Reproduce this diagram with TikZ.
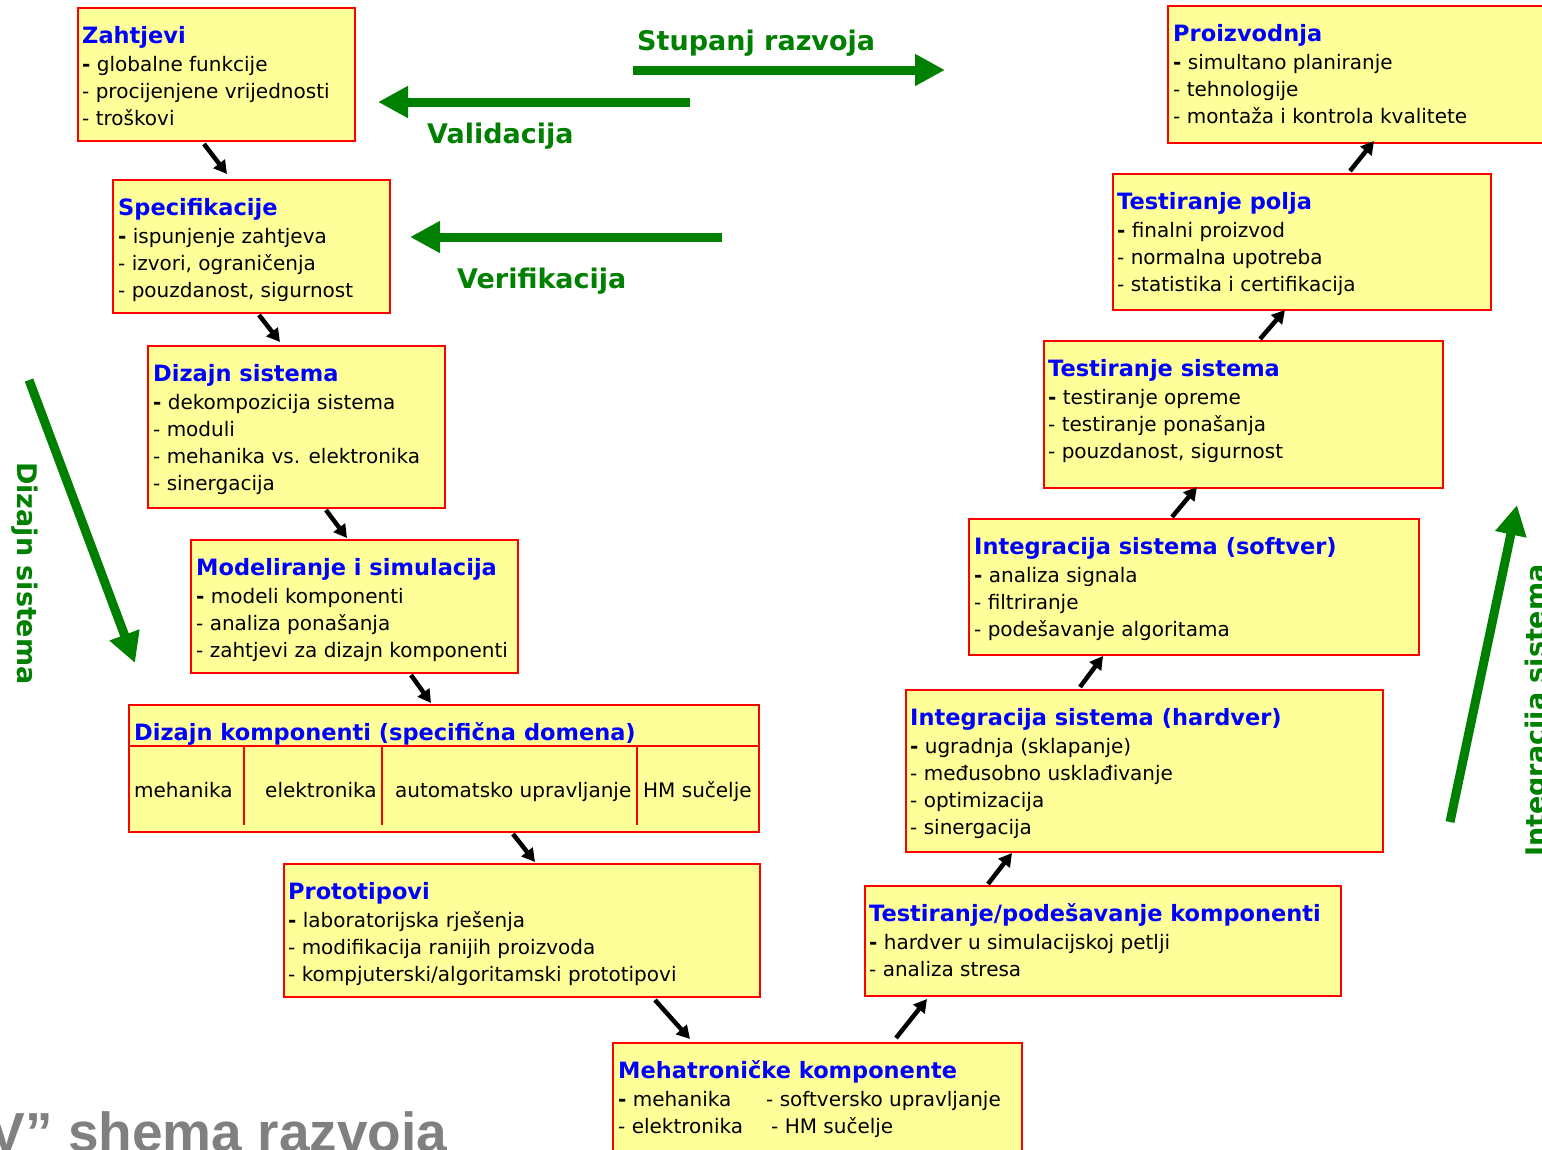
\documentclass[tikz,border=0pt]{standalone}
\usepackage{fontspec}
\setmainfont{DejaVu Sans}
\newfontfamily\slidefont{Liberation Sans}
\usetikzlibrary{arrows.meta}

\definecolor{boxfill}{RGB}{255,255,153}
\definecolor{ttlblue}{RGB}{0,0,255}
\definecolor{dkgreen}{RGB}{0,128,0}
\definecolor{slidegray}{RGB}{128,128,128}

\newcommand\bodyfont{\fontsize{20}{27}\selectfont}
\newcommand\ttlfont{\fontsize{22.5}{27}\selectfont\bfseries\color{ttlblue}}
\newcommand\greenfont{\fontsize{27}{32}\selectfont\bfseries\color{dkgreen}}
\newcommand\bdash{{\bfseries -}}

% one stage of the V model: name, x, y, width, height, text indent, title, lines
\newcommand\stage[8]{%
  \node[stagebox, minimum width=#4pt, minimum height=#5pt] (#1) at (#2,#3) {};
  \node[stagetext] at ([shift={(#6,35)}]#1.north west)
    {\begin{tabular}[t]{@{}l@{}}{\ttlfont #7}\\[1pt] #8\end{tabular}};}

\tikzset{
  stagebox/.style={draw=red, fill=boxfill, line width=1.5pt, anchor=north west,
    inner sep=0pt, outer sep=0pt},
  stagetext/.style={anchor=base west, inner sep=0pt, font=\bodyfont},
  conn/.style={line width=4.5pt, -{Triangle[length=13pt,width=14pt]}},
  bigarrow/.style={dkgreen, line width=9pt, -{Triangle[length=30pt,width=30pt]}},
  greenlabel/.style={anchor=base west, inner sep=0pt, font=\greenfont},
}

\begin{document}
\begin{tikzpicture}[x=1pt, y=-1pt]
\useasboundingbox (0,0) rectangle (1542,1149);

% left branch: design
\stage{zah}{78}{8}{277}{133}{4}{Zahtjevi}
  {\bdash{} globalne funkcije\\- procijenjene vrijednosti\\- troškovi}
\stage{spec}{113}{180}{277}{133}{5}{Specifikacije}
  {\bdash{} ispunjenje zahtjeva\\- izvori, ograničenja\\- pouzdanost, sigurnost}
\stage{dsys}{148}{346}{297}{162}{5}{Dizajn sistema}
  {\bdash{} dekompozicija sistema\\- moduli\\- mehanika vs. elektronika\\- sinergacija}
\stage{model}{191}{540}{327}{133}{5}{Modeliranje i simulacija}
  {\bdash{} modeli komponenti\\- analiza ponašanja\\- zahtjevi za dizajn komponenti}

% component design, split by domain
\node[stagebox, minimum width=630pt, minimum height=127pt] (dkomp) at (129,705) {};
\node[stagetext] (dkompt) at ([shift={(5,35)}]dkomp.north west)
  {\ttlfont Dizajn komponenti (specifična domena)};
\draw[red, line width=1.5pt] ([yshift=-41pt]dkomp.north west) -- ([yshift=-41pt]dkomp.north east);
\draw[red, line width=1.5pt] (244,746) -- (244,825);
\draw[red, line width=1.5pt] (382,746) -- (382,825);
\draw[red, line width=1.5pt] (637,746) -- (637,825);
\node[stagetext] (dk1) at (134,797) {mehanika};
\node[stagetext] (dk2) at (265,797) {elektronika};
\node[stagetext] (dk3) at (395,797) {automatsko upravljanje};
\node[stagetext] (dk4) at (643,797) {HM sučelje};

\stage{proto}{284}{864}{476}{133}{4}{Prototipovi}
  {\bdash{} laboratorijska rješenja\\- modifikacija ranijih proizvoda\\- kompjuterski/algoritamski prototipovi}
\stage{meh}{613}{1043}{409}{125}{5}{Mehatroničke komponente}
  {\makebox[148pt][l]{\bdash{} mehanika}- softversko upravljanje\\
   \makebox[153pt][l]{- elektronika}- HM sučelje}

% right branch: integration
\stage{tpk}{865}{886}{476}{110}{4}{Testiranje/podešavanje komponenti}
  {\bdash{} hardver u simulacijskoj petlji\\- analiza stresa}
\stage{ihw}{906}{690}{477}{162}{4}{Integracija sistema (hardver)}
  {\bdash{} ugradnja (sklapanje)\\- međusobno usklađivanje\\- optimizacija\\- sinergacija}
\stage{isw}{969}{519}{450}{136}{5}{Integracija sistema (softver)}
  {\bdash{} analiza signala\\- filtriranje\\- podešavanje algoritama}
\stage{tsys}{1044}{341}{399}{147}{4}{Testiranje sistema}
  {\bdash{} testiranje opreme\\- testiranje ponašanja\\- pouzdanost, sigurnost}
\stage{tpolja}{1113}{174}{378}{136}{4}{Testiranje polja}
  {\bdash{} finalni proizvod\\- normalna upotreba\\- statistika i certifikacija}
\stage{proiz}{1168}{6}{400}{137}{5}{Proizvodnja}
  {\bdash{} simultano planiranje\\- tehnologije\\- montaža i kontrola kvalitete}

% flow between stages
\draw[conn] ([shift={(126,3)}]zah.south west) -- ([shift={(114,-6)}]spec.north west);
\draw[conn] ([shift={(146,2)}]spec.south west) -- ([shift={(132,-4)}]dsys.north west);
\draw[conn] ([shift={(178,2)}]dsys.south west) -- ([shift={(156,-2)}]model.north west);
\draw[conn] ([shift={(220,2)}]model.south west) -- ([shift={(302,-2)}]dkomp.north west);
\draw[conn] ([shift={(384,2)}]dkomp.south west) -- ([shift={(251,-2)}]proto.north west);
\draw[conn] ([shift={(371,3)}]proto.south west) -- ([shift={(77,-4)}]meh.north west);
\draw[conn] ([shift={(283,-5)}]meh.north west) -- ([shift={(62,3)}]tpk.south west);
\draw[conn] ([shift={(123,-2)}]tpk.north west) -- ([shift={(106,1)}]ihw.south west);
\draw[conn] ([shift={(174,-3)}]ihw.north west) -- ([shift={(134,1)}]isw.south west);
\draw[conn] ([shift={(203,-2)}]isw.north west) -- ([shift={(153,-1)}]tsys.south west);
\draw[conn] ([shift={(216,-2)}]tsys.north west) -- ([shift={(172,0)}]tpolja.south west);
\draw[conn] ([shift={(237,-3)}]tpolja.north west) -- ([shift={(206,-2)}]proiz.south west);

% direction arrows and their labels
\draw[bigarrow] (633,70) -- (945,70);
\node[greenlabel] (stup) at (637,50) {Stupanj razvoja};
\draw[bigarrow] (690,102) -- (378,102);
\node[greenlabel] (valid) at (427,143) {Validacija};
\draw[bigarrow] (722,237) -- (410,237);
\node[greenlabel] (verif) at (457,288) {Verifikacija};
\draw[bigarrow] (29,380) -- (135,663);
\node[greenlabel, rotate=-90] (dsl) at (17,462) {Dizajn sistema};
\draw[bigarrow] (1450,822) -- (1517,505);
\node[greenlabel, rotate=90] (isl) at (1545,857) {Integracija sistema};

% slide title
\node[anchor=base west, inner sep=0pt, text=slidegray,
  font={\slidefont\fontsize{55}{60}\selectfont\bfseries}] (title) at (-11.5,1151)
  {V” shema razvoja};
\end{tikzpicture}
\end{document}
